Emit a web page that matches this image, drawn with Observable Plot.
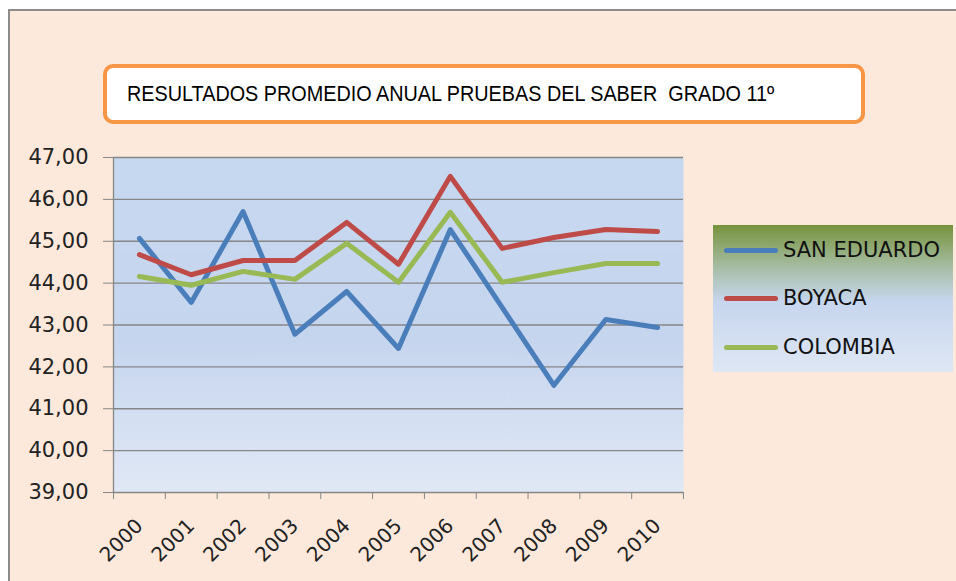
<!DOCTYPE html>
<html>
<head>
<meta charset="utf-8">
<script src="https://cdn.jsdelivr.net/npm/d3@7"></script>
<script src="https://cdn.jsdelivr.net/npm/@observablehq/plot@0.6"></script>
<style>
  html, body { margin: 0; padding: 0; background: #ffffff; }
  #page { position: relative; width: 956px; height: 581px; overflow: hidden; }
  #frame { position: absolute; left: 8px; top: 9px; width: 960px; height: 600px;
           background: #fde9db; border-left: 2px solid #8c8c8c; border-top: 2px solid #8c8c8c; }
  #chart { position: absolute; left: 0; top: 0; }
  #title { position: absolute; left: 103px; top: 64px; width: 734px; height: 52px;
           border: 4px solid #f79646; border-radius: 10px; background: #ffffff;
           font-family: "Liberation Sans Narrow", "Arial Narrow", sans-serif; font-size: 22px;
           color: #000; line-height: 52px; padding-left: 20px; box-sizing: content-box; white-space: pre; }
  #title span { display: inline-block; transform: scaleX(0.9); transform-origin: left center; }
  #legend { position: absolute; left: 713px; top: 225px; width: 240px; height: 147px;
            background: linear-gradient(to bottom, #77933c 0%, #a9bfa9 30%, #c6d6ee 52%, #dfe7f4 100%);
            font-family: "DejaVu Sans", sans-serif; font-size: 21px; color: #111; }
  .item { position: absolute; left: 11px; height: 24px; display: flex; align-items: center; }
  .swatch { width: 54px; height: 5px; border-radius: 3px; margin-right: 5px; }
</style>
</head>
<body>
<div id="page">
  <div id="frame"></div>
  <div id="chart"></div>
  <div id="title"><span></span></div>
  <div id="legend"></div>
</div>
<script>
const titleText = "RESULTADOS PROMEDIO ANUAL PRUEBAS DEL SABER  GRADO 11º";
const years = [2000, 2001, 2002, 2003, 2004, 2005, 2006, 2007, 2008, 2009, 2010];
const seriesNames = ["SAN EDUARDO", "BOYACA", "COLOMBIA"];
const seriesColors = ["#4a7ebb", "#be4b48", "#98b954"];
const sanEduardo = [45.07, 43.54, 45.71, 42.78, 43.80, 42.44, 45.28, 43.42, 41.56, 43.13, 42.94];
const boyaca     = [44.68, 44.20, 44.54, 44.54, 45.45, 44.45, 46.55, 44.83, 45.09, 45.28, 45.23];
const colombia   = [44.16, 43.95, 44.28, 44.09, 44.95, 44.02, 45.69, 44.02, 44.25, 44.47, 44.47];
const yTicks = [39, 40, 41, 42, 43, 44, 45, 46, 47];

const seriesValues = [sanEduardo, boyaca, colombia];
const data = [];
seriesNames.forEach((name, s) => years.forEach((yr, i) => data.push({year: yr, value: seriesValues[s][i], series: name})));

const xDomain = [years[0] - 0.5, years[years.length - 1] + 0.5];
const boundaries = years.map(y => y - 0.5).concat([years[years.length - 1] + 0.5]);
const fmt = d => d.toFixed(2).replace(".", ",");

const chart = Plot.plot({
  width: 956,
  height: 581,
  marginLeft: 113,
  marginRight: 273,
  marginTop: 157,
  marginBottom: 89,
  style: {background: "transparent", fontFamily: "DejaVu Sans, sans-serif", color: "#000"},
  x: {type: "linear", domain: xDomain},
  y: {domain: [yTicks[0], yTicks[yTicks.length - 1]]},
  color: {domain: seriesNames, range: seriesColors},
  marks: [
    Plot.frame({fill: "url(#plotbg)", stroke: null}),
    Plot.gridY(yTicks, {stroke: "#868686", strokeOpacity: 1, strokeWidth: 1.3}),
    Plot.ruleX([xDomain[0]], {stroke: "#868686", strokeWidth: 1.3}),
    Plot.axisY(yTicks, {tickFormat: fmt, tickSize: 10, tickPadding: 15, stroke: "#868686", fontSize: 21, fontFamily: "DejaVu Sans", fill: "#222", label: null}),
    Plot.axisX(boundaries, {tickFormat: () => "", tickSize: 7, stroke: "#868686", label: null}),
    Plot.axisX(years, {tickFormat: d => String(d), tickSize: 0, tickRotate: -45, tickPadding: 30, fontSize: 20, fontFamily: "DejaVu Sans", fill: "#222", label: null}),
    Plot.line(data, {x: "year", y: "value", z: "series", stroke: "series", strokeWidth: 5, strokeLinejoin: "round", strokeLinecap: "round"})
  ]
});

const svg = d3.select(chart);
const defs = svg.insert("defs", ":first-child");
const grad = defs.append("linearGradient").attr("id", "plotbg").attr("x1", 0).attr("y1", 0).attr("x2", 0).attr("y2", 1);
grad.append("stop").attr("offset", "0%").attr("stop-color", "#c6d8f0");
grad.append("stop").attr("offset", "55%").attr("stop-color", "#c6d5ee");
grad.append("stop").attr("offset", "100%").attr("stop-color", "#e0e8f5");
document.getElementById("chart").appendChild(chart);

document.querySelector("#title span").textContent = titleText;

const legend = document.getElementById("legend");
const rowTops = [13, 61, 110];
seriesNames.forEach((name, i) => {
  const item = document.createElement("div");
  item.className = "item";
  item.style.top = rowTops[i] + "px";
  const sw = document.createElement("div");
  sw.className = "swatch";
  sw.style.background = seriesColors[i];
  const label = document.createElement("span");
  label.textContent = name;
  item.appendChild(sw);
  item.appendChild(label);
  legend.appendChild(item);
});
</script>
</body>
</html>
